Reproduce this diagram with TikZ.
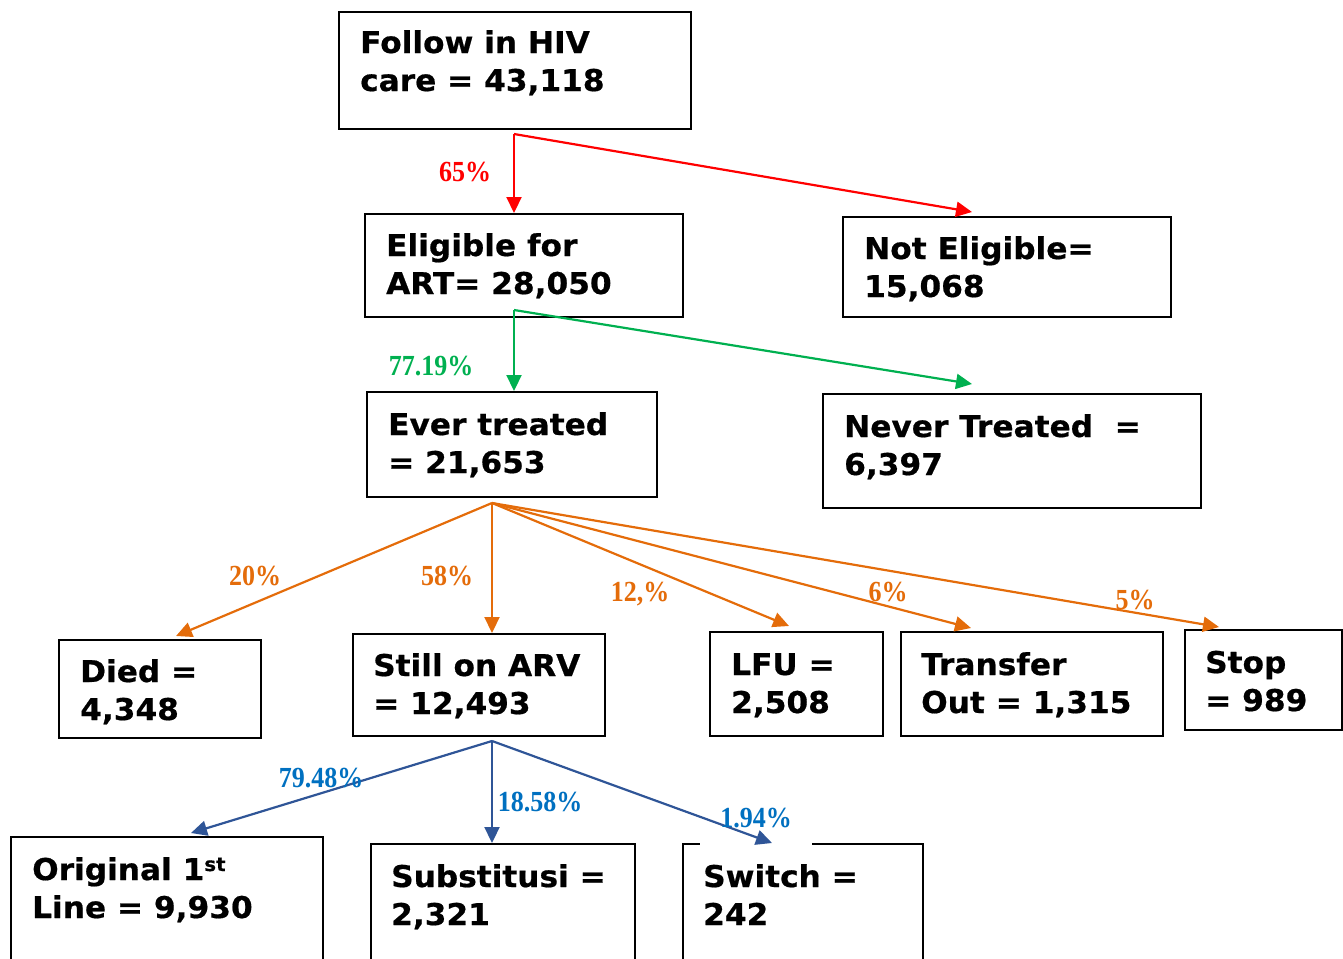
\documentclass[tikz,border=0pt]{standalone}
\usepackage{fontspec}
\usepackage{graphicx}
\setmainfont{DejaVu Sans}
\newfontfamily\boxfont{DejaVu Sans Bold}[FakeStretch=1.04,FakeBold=0.6]
\newfontfamily\lblfont{Liberation Serif Bold}
\usetikzlibrary{arrows.meta}
\definecolor{cred}{HTML}{FF0000}
\definecolor{cgreen}{HTML}{00B050}
\definecolor{corange}{HTML}{E46C0A}
\definecolor{cblue}{HTML}{2F5597}
\definecolor{clblue}{HTML}{0070C0}
\newcommand{\lbltxt}[1]{\scalebox{1}[1.12]{#1}}
\tikzset{
  box/.style={draw, line width=2.3pt, inner sep=0pt, anchor=north west},
  txt/.style={font=\boxfont\fontsize{30}{38}\selectfont, align=left, anchor=base west, inner sep=0pt},
  lbl/.style={font=\lblfont\fontsize{26}{28}\selectfont, inner sep=0pt},
  arr/.style={line width=2.2pt, -{Triangle[length=16pt,width=15pt]}}
}
\begin{document}
\begin{tikzpicture}[x=1pt,y=-1pt]
\useasboundingbox (0,0) rectangle (1343,958);
\clip (0,0) rectangle (1343,958);
% boxes
\node[box, minimum width=352, minimum height=117] (b1) at (338,11) {};
\node[box, minimum width=318, minimum height=103] (b2) at (364,213) {};
\node[box, minimum width=328, minimum height=100] (b3) at (842,216) {};
\node[box, minimum width=290, minimum height=105] (b4) at (366,391) {};
\node[box, minimum width=378, minimum height=114] (b5) at (822,393) {};
\node[box, minimum width=202, minimum height=98] (b6) at (58,639) {};
\node[box, minimum width=252, minimum height=102] (b7) at (352,633) {};
\node[box, minimum width=173, minimum height=104] (b8) at (709,631) {};
\node[box, minimum width=262, minimum height=104] (b9) at (900,631) {};
\node[box, minimum width=157, minimum height=100] (b10) at (1184,629) {};
\node[box, minimum width=312, minimum height=160] (b11) at (10,836) {};
\node[box, minimum width=264, minimum height=160] (b12) at (370,843) {};
\node[box, minimum width=240, minimum height=160] (b13) at (682,843) {};
% texts (anchor = baseline of last line)
\node[txt] (t1) at (360,91) {Follow in HIV\\care = 43,118};
\node[txt] (t2) at (386,294) {Eligible for\\ART= 28,050};
\node[txt] (t3) at (864,297) {Not Eligible=\\15,068};
\node[txt] (t4) at (388,473) {Ever treated\\= 21,653};
\node[txt] (t5) at (844,475) {Never Treated\ \ =\\6,397};
\node[txt] (t6) at (80,720) {Died =\\4,348};
\node[txt] (t7) at (373,714) {Still on ARV\\= 12,493};
\node[txt] (t8) at (731,713) {LFU =\\2,508};
\node[txt] (t9) at (921,713) {Transfer\\Out = 1,315};
\node[txt] (t10) at (1205,711) {Stop\\= 989};
\node[txt] (t11) at (32,918) {Original 1\raisebox{9pt}{\fontsize{19}{20}\selectfont st}\\Line = 9,930};
\node[txt] (t12) at (391,925) {Substitusi =\\2,321};
\node[txt] (t13) at (703,925) {Switch =\\242};
% white patch behind the 1.94% label (drawn before arrows)
\node[fill=white, inner sep=0pt, minimum width=112, minimum height=50] (p13) at (756,820) {};
% split points and tips
\coordinate (s1) at (514,134);
\coordinate (s2) at (514,310);
\coordinate (s3) at (492,503);
\coordinate (s4) at (492,741);
\coordinate (e3) at (972,212);
\coordinate (e5) at (972,384);
\coordinate (e6) at (176,636);
\coordinate (e8) at (789,626);
\coordinate (e9) at (971,628);
\coordinate (e10) at (1219,627);
\coordinate (e11) at (191,833);
\coordinate (e13) at (772,843);
% arrows
\draw[arr, cred] (s1) -- (s1 |- b2.north);
\draw[arr, cred] (s1) -- (e3);
\draw[arr, cgreen] (s2) -- (s2 |- b4.north);
\draw[arr, cgreen] (s2) -- (e5);
\draw[arr, corange] (s3) -- (e6);
\draw[arr, corange] (s3) -- (s3 |- b7.north);
\draw[arr, corange] (s3) -- (e8);
\draw[arr, corange] (s3) -- (e9);
\draw[arr, corange] (s3) -- (e10);
\draw[arr, cblue] (s4) -- (e11);
\draw[arr, cblue] (s4) -- (s4 |- b12.north);
\draw[arr, cblue] (s4) -- (e13);
% labels
\node[lbl, text=cred] (l2) at (465,172) {\lbltxt{65\%}};
\node[lbl, text=cgreen] (l4) at (431,366) {\lbltxt{77.19\%}};
\node[lbl, text=corange] (l6) at (255,576) {\lbltxt{20\%}};
\node[lbl, text=corange] (l7) at (447,576) {\lbltxt{58\%}};
\node[lbl, text=corange] (l8) at (640,594) {\lbltxt{12,\%}};
\node[lbl, text=corange] (l9) at (888,592) {\lbltxt{6\%}};
\node[lbl, text=corange] (l10) at (1135,600) {\lbltxt{5\%}};
\node[lbl, text=clblue] (l11) at (321,778) {\lbltxt{79.48\%}};
\node[lbl, text=clblue] (l12) at (540,802) {\lbltxt{18.58\%}};
\node[lbl, text=clblue] (l13) at (756,818) {\lbltxt{1.94\%}};
\end{tikzpicture}
\end{document}
